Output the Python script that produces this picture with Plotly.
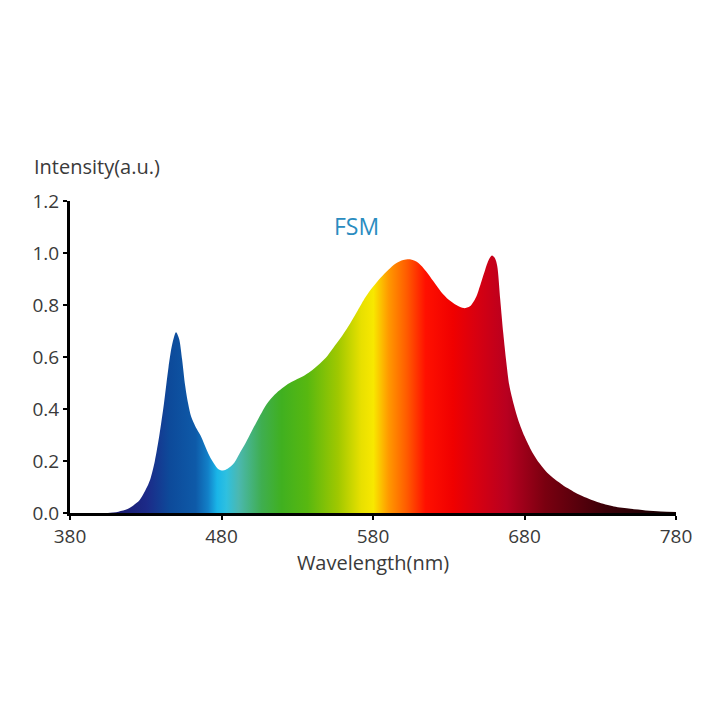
import plotly.graph_objects as go

# Spectrum data
wavelength = [380, 400, 405, 412, 418, 422, 426, 430, 433, 436, 439, 442, 445, 447.5, 450,
              452, 454, 456, 458, 460, 463, 466, 469, 472, 475, 478, 481, 484, 488, 492,
              496, 500, 505, 510, 515, 520, 525, 530, 535, 540, 545, 550, 555, 560, 565,
              570, 575, 580, 585, 590, 595, 600, 605, 610, 615, 620, 625, 630, 635, 640,
              644, 648, 651, 654, 656.5, 658.5, 660.5, 662, 664, 666, 668, 670, 673, 676,
              680, 685, 690, 695, 700, 708, 717, 728, 739, 750, 760, 770, 780]
intensity = [0, 0, 0, 0.005, 0.015, 0.03, 0.05, 0.09, 0.13, 0.2, 0.3, 0.42, 0.56, 0.65, 0.695,
             0.67, 0.59, 0.49, 0.42, 0.37, 0.33, 0.30, 0.26, 0.22, 0.19, 0.168, 0.163, 0.17, 0.19, 0.23,
             0.27, 0.315, 0.37, 0.42, 0.455, 0.48, 0.5, 0.515, 0.53, 0.55, 0.575, 0.605, 0.645, 0.685, 0.73,
             0.78, 0.83, 0.87, 0.905, 0.935, 0.96, 0.973, 0.975, 0.962, 0.93, 0.89, 0.85, 0.82, 0.80, 0.788,
             0.795, 0.83, 0.88, 0.935, 0.975, 0.99, 0.98, 0.95, 0.82, 0.69, 0.58, 0.49, 0.415, 0.355,
             0.295, 0.235, 0.19, 0.155, 0.13, 0.097, 0.068, 0.042, 0.025, 0.016, 0.01, 0.006, 0.004]

x_ticks = [380, 480, 580, 680, 780]
y_ticks = [0.0, 0.2, 0.4, 0.6, 0.8, 1.0, 1.2]
y_ticklabels = ["0.0", "0.2", "0.4", "0.6", "0.8", "1.0", "1.2"]

# wavelength -> colour stops for the spectral fill
color_nm = [380, 410, 430, 445, 462, 470, 476, 482, 490, 505, 518, 535, 555, 570, 578,
            588, 600, 612, 630, 645, 665, 690, 730, 780]
color_hex = ["#101040", "#1a1a6e", "#1c2a88", "#0d4a9a", "#0e5aa8", "#1280c8", "#19b5e8",
             "#2ec0e0", "#4bb8b0", "#3fae50", "#40b020", "#58b810", "#a0c800", "#e8e000",
             "#f8e800", "#ff9800", "#ff5a00", "#ff1000", "#f00000", "#d80010", "#b80020",
             "#7a0010", "#3a0008", "#100000"]

lo, hi = color_nm[0], color_nm[-1]
colorscale = [[(n - lo) / (hi - lo), c] for n, c in zip(color_nm, color_hex)]

FONT = "Open Sans"
TXT = "#3a3a3a"

fig = go.Figure()
fig.add_trace(go.Scatter(
    x=wavelength, y=intensity, mode="lines",
    line=dict(width=0, shape="spline", smoothing=0.8),
    fill="tozeroy",
    fillgradient=dict(type="horizontal", colorscale=colorscale, start=lo, stop=hi),
    hoverinfo="skip", showlegend=False,
))

fig.update_layout(
    width=704, height=704,
    margin=dict(l=70, r=21, t=201, b=191),
    paper_bgcolor="white", plot_bgcolor="white",
    font=dict(family=FONT, color=TXT, size=19),
    xaxis=dict(range=[380, 780], tickvals=x_ticks, ticktext=[str(v) for v in x_ticks],
               showgrid=False, zeroline=False, showline=True, linecolor="black", linewidth=3,
               ticks="outside", ticklen=4, tickwidth=2, tickcolor="black",
               tickfont=dict(family=FONT, size=19, color=TXT),
               title=dict(text="Wavelength(nm)", font=dict(family=FONT, size=20, color=TXT), standoff=0)),
    yaxis=dict(range=[0, 1.2], tickvals=y_ticks, ticktext=y_ticklabels,
               showgrid=False, zeroline=False, showline=True, linecolor="black", linewidth=3,
               ticks="outside", ticklen=4, tickwidth=2, tickcolor="black",
               tickfont=dict(family=FONT, size=19, color=TXT)),
    annotations=[
        dict(text="Intensity(a.u.)", xref="paper", yref="paper", x=-0.062, y=1.112,
             xanchor="left", yanchor="middle", showarrow=False,
             font=dict(family=FONT, size=20, color=TXT)),
        dict(text="FSM", xref="x", yref="paper", x=569, y=0.92,
             xanchor="center", yanchor="middle", showarrow=False,
             font=dict(family=FONT, size=23, color="#2a8cc0")),
    ],
)

fig.write_html("out.html")
